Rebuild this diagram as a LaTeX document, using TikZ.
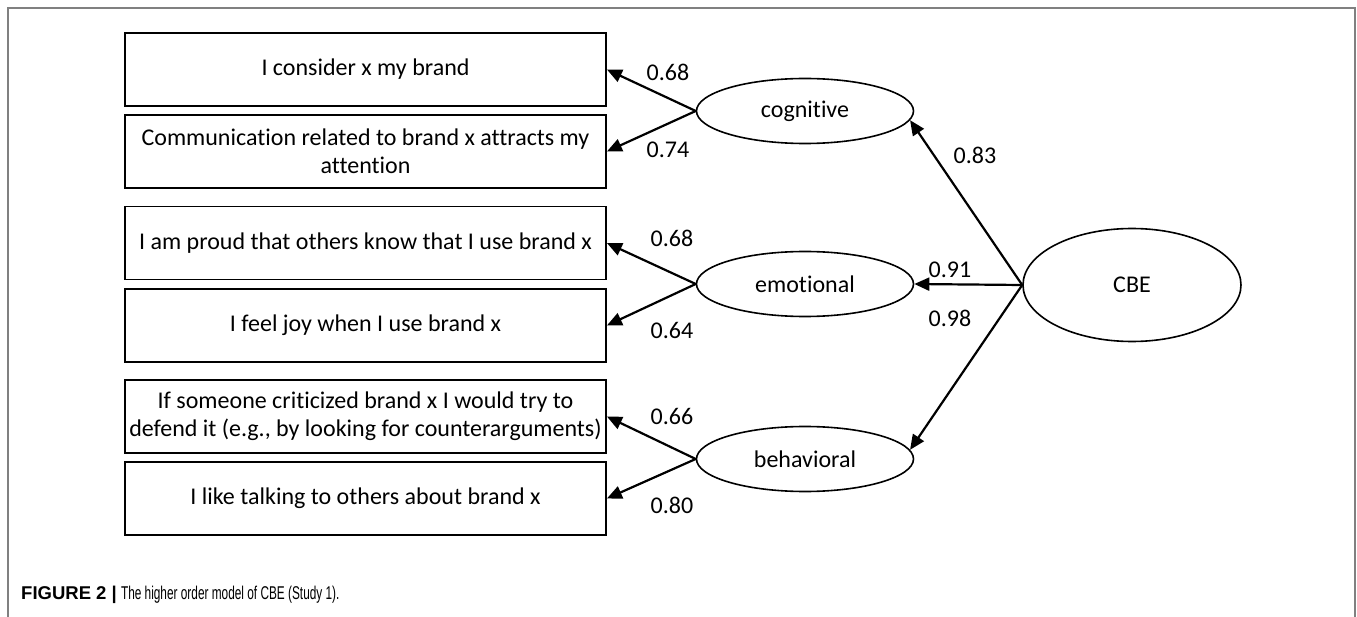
\documentclass[tikz,border=0pt]{standalone}
\usepackage{fontspec}
\setmainfont[Ligatures=NoCommon]{Carlito}
\newfontfamily\capboldfont{Liberation Sans}
\newfontfamily\capfont[FakeStretch=0.64]{Liberation Sans}
\usetikzlibrary{arrows.meta,positioning,shapes.geometric}

\begin{document}
\begin{tikzpicture}[x=1pt,y=-1pt,
    itembox/.style={draw, line width=1.8pt, minimum width=481pt, minimum height=73pt,
      align=center, font=\fontsize{24}{28}\selectfont, inner sep=0pt},
    latent/.style={draw, ellipse, line width=1.6pt, minimum width=217pt, minimum height=65pt,
      font=\fontsize{24}{28}\selectfont, inner sep=0pt},
    loading/.style={line width=2.2pt, -{Triangle[length=15pt,width=13pt]}},
    coef/.style={font=\fontsize{24}{26}\selectfont, inner sep=0pt}]
  \useasboundingbox (0,0) rectangle (1357,617);
  % frame
  \draw [line width=2pt, gray] (8,617)--(8,8)--(1355,8)--(1355,617);
  % items
  \node [itembox] (i1) at (365.5,69.5) {I consider x my brand};
  \node [itembox] (i2) at (365.5,151.5) {Communication related to brand x attracts my\\attention};
  \node [itembox] (i3) at (365.5,243) {I am proud that others know that I use brand x};
  \node [itembox] (i4) at (365.5,325.5) {I feel joy when I use brand x};
  \node [itembox] (i5) at (365.5,416.5) {If someone criticized brand x I would try to\\defend it (e.g., by looking for counterarguments)};
  \node [itembox] (i6) at (365.5,498.5) {I like talking to others about brand x};
  % factors
  \node [latent] (cog) at (805,111) {cognitive};
  \node [latent] (emo) at (805,284) {emotional};
  \node [latent] (beh) at (805,459) {behavioral};
  \node [latent, minimum width=218pt, minimum height=113pt] (cbe) at (1132,285) {CBE};
  % loadings
  \draw [loading] (cog.west)--(i1.east);
  \draw [loading] (cog.west)--(i2.east);
  \draw [loading] (emo.west)--(i3.east);
  \draw [loading] (emo.west)--(i4.east);
  \draw [loading] (beh.west)--(i5.east);
  \draw [loading] (beh.west)--(i6.east);
  \draw [loading] (cbe.west)--(cog.-5);
  \draw [loading] (cbe.west)--(emo.east);
  \draw [loading] (cbe.west)--(beh.5);
  \node [coef] (c1) at (668,72) {0.68};
  \node [coef] (c2) at (668,150) {0.74};
  \node [coef] (c3) at (672,238) {0.68};
  \node [coef] (c4) at (672,330) {0.64};
  \node [coef] (c5) at (672,416) {0.66};
  \node [coef] (c6) at (672,505) {0.80};
  \node [coef] (c7) at (975,155) {0.83};
  \node [coef] (c8) at (950,270) {0.91};
  \node [coef] (c9) at (950,318) {0.98};
  % caption
  \node [anchor=west, inner sep=0pt, font=\fontsize{18.5}{20}\selectfont] (cap) at (21,595)
    {{\capboldfont\bfseries FIGURE 2 |} {\capfont The higher order model of CBE (Study 1).}};
\end{tikzpicture}
\end{document}
